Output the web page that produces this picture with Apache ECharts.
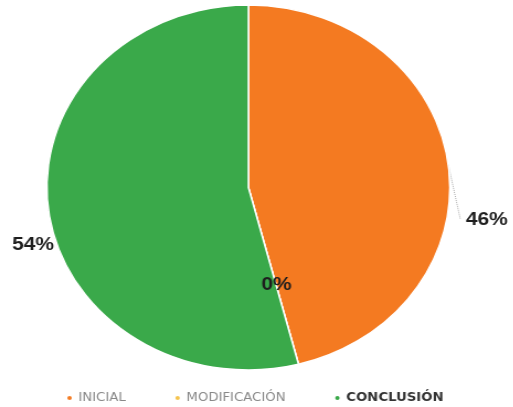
<!DOCTYPE html>
<html>
<head>
<meta charset="utf-8">
<script src="https://cdn.jsdelivr.net/npm/echarts@6/dist/echarts.min.js"></script>
<style>
  html, body { margin: 0; padding: 0; background: #fff; overflow: hidden; }
  /* the source picture is stretched horizontally, so the chart is too */
  #chart { width: 465px; height: 407px; transform: scaleX(1.104); transform-origin: 0 0; }
</style>
</head>
<body>
<div id="chart"></div>
<script>
var categories = ['INICIAL', 'MODIFICACIÓN', 'CONCLUSIÓN']
var values = [46, 0, 54]
var colors = ['#f47a21', '#f5c44e', '#3aa94a']

// label nudges (dx, dy) per slice, the source puts them lower than the mid-angle
var labelShift = [[-5, 56], [2, 6], [26, 33]]

var chart = echarts.init(document.getElementById('chart'))

var pieData = categories.map(function (name, i) {
  var item = { name: name, value: values[i] }
  if (values[i] === 0) {
    item.label = { position: 'inside' }
    item.labelLine = { show: false }
  }
  return item
})

chart.setOption({
  color: colors,
  legend: {
    top: 387,
    left: 54,
    icon: 'circle',
    itemWidth: 6,
    itemHeight: 6,
    itemGap: 43,
    textStyle: { fontFamily: 'DejaVu Sans', fontSize: 12 },
    data: [
      { name: 'INICIAL', textStyle: { color: '#888' } },
      { name: 'MODIFICACIÓN', textStyle: { color: '#888' } },
      { name: 'CONCLUSIÓN', textStyle: { color: '#333', fontWeight: 'bold' } }
    ]
  },
  series: [
    {
      type: 'pie',
      center: [225, 187.5],
      radius: [0, 182.5],
      startAngle: 90,
      clockwise: true,
      avoidLabelOverlap: false,
      itemStyle: { borderColor: '#fff', borderWidth: 1.5 },
      label: {
        formatter: '{d}%',
        fontSize: 19,
        fontWeight: 'bold',
        color: '#1e1e1e'
      },
      labelLine: {
        length: 10,
        length2: 6,
        lineStyle: { color: '#aaa', type: 'dotted' }
      },
      labelLayout: function (params) {
        var s = labelShift[params.dataIndex]
        var res = { dx: s[0], dy: s[1] }
        var pts = params.labelLinePoints
        if (pts) {
          var end = [pts[2][0] + s[0], pts[2][1] + s[1]]
          res.labelLinePoints = [pts[0], [(pts[0][0] + end[0]) / 2, (pts[0][1] + end[1]) / 2], end]
        }
        return res
      },
      data: pieData
    }
  ]
})
</script>
</body>
</html>
